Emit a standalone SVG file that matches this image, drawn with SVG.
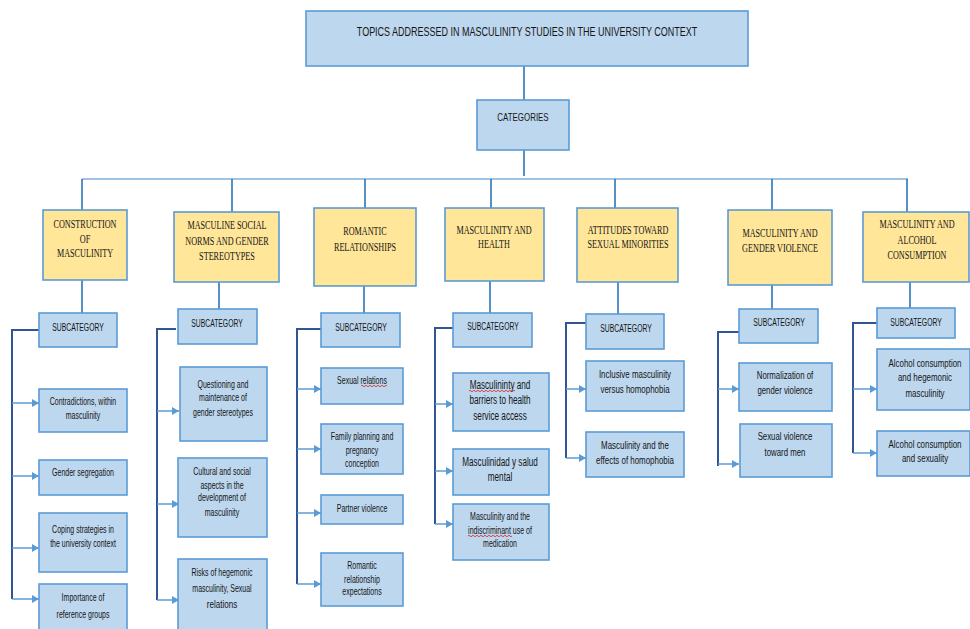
<svg xmlns="http://www.w3.org/2000/svg" width="970" height="629" viewBox="0 0 970 629">
<defs>
<marker id="ah" markerWidth="7" markerHeight="8" refX="7" refY="4" orient="auto" markerUnits="userSpaceOnUse"><path d="M0,0 L7,4 L0,8 z" fill="#5B9BD5"/></marker>
<style>
.bx{fill:#BDD7EE;stroke:#5B9BD5;stroke-width:1.6}
.cat{fill:#FFE699;stroke:#5B9BD5;stroke-width:1.6}
.t{font-family:"Liberation Sans",Arial,sans-serif;fill:#151515;text-anchor:middle}
.s{font-family:"Liberation Serif","Times New Roman",serif;fill:#151515;text-anchor:middle;font-size:11.5px}
.bus{stroke:#2E75B6;stroke-width:1.6;fill:none}
.hbus{stroke:#7FAEDC;stroke-width:1.6;fill:none}
.bk{stroke:#2F5597;stroke-width:2;fill:none}
.ar{stroke:#5B9BD5;stroke-width:1.5;fill:none;marker-end:url(#ah)}
.sq{stroke:#E02020;stroke-width:0.8;fill:none}
</style>
</defs>
<rect width="970" height="629" fill="#ffffff"/>

<g id="connectors">
<path class="bus" d="M524,66 V100 M524,150 V176"/>
<path class="hbus" d="M82,179 H908"/>
<path class="bus" d="M82,179 V210 M232,179 V212 M365,179 V208 M491,179 V208 M615,179 V208 M772,179 V210 M907,179 V212"/>
<path class="bus" d="M82,280 V313 M219,282 V309 M364,286 V313 M490,281 V313 M618,282 V314 M772,285 V309 M910,282 V308"/>
<path class="bk" d="M39,330 H12 V599 M176,329 H157 V600 M321,329 H297 V584 M453,328 H435 V524 M586,323 H566 V458 M739,332 H718 V466 M877,323 H853 V453"/>
<path class="ar" d="M12,403 H39"/><path class="ar" d="M12,476 H39"/><path class="ar" d="M12,548 H39"/><path class="ar" d="M12,599 H39"/>
<path class="ar" d="M157,411 H179"/><path class="ar" d="M157,504 H179"/><path class="ar" d="M157,600 H179"/>
<path class="ar" d="M297,389 H321"/><path class="ar" d="M297,449 H321"/><path class="ar" d="M297,513 H321"/><path class="ar" d="M297,584 H321"/>
<path class="ar" d="M435,404 H453"/><path class="ar" d="M435,471 H453"/><path class="ar" d="M435,524 H453"/>
<path class="ar" d="M566,389 H586"/><path class="ar" d="M566,458 H586"/>
<path class="ar" d="M718,389 H739"/><path class="ar" d="M718,464 H739"/>
<path class="ar" d="M853,389 H877"/><path class="ar" d="M853,453 H877"/>
</g>

<g id="title"><rect class="bx" x="306" y="11" width="442" height="55"/>
<text class="t" font-size="12.5" transform="translate(527,0) scale(0.72,1)"><tspan x="0" y="36">TOPICS ADDRESSED IN MASCULINITY STUDIES IN THE UNIVERSITY CONTEXT</tspan></text></g>

<g id="categories"><rect class="bx" x="477" y="100" width="92" height="50"/>
<text class="t" font-size="11" transform="translate(523,0) scale(0.72,1)"><tspan x="0" y="121">CATEGORIES</tspan></text></g>

<g id="cat1"><rect class="cat" x="43" y="210" width="84" height="70"/>
<text class="s" transform="translate(85,0) scale(0.71,1)"><tspan x="0" y="228">CONSTRUCTION</tspan><tspan x="0" y="243">OF</tspan><tspan x="0" y="257">MASCULINITY</tspan></text></g>
<g id="cat2"><rect class="cat" x="174" y="212" width="105" height="70"/>
<text class="s" transform="translate(227,0) scale(0.71,1)"><tspan x="0" y="229">MASCULINE SOCIAL</tspan><tspan x="0" y="245">NORMS AND GENDER</tspan><tspan x="0" y="260">STEREOTYPES</tspan></text></g>
<g id="cat3"><rect class="cat" x="314" y="208" width="102" height="78"/>
<text class="s" transform="translate(365,0) scale(0.71,1)"><tspan x="0" y="235">ROMANTIC</tspan><tspan x="0" y="251">RELATIONSHIPS</tspan></text></g>
<g id="cat4"><rect class="cat" x="445" y="208" width="99" height="73"/>
<text class="s" transform="translate(494,0) scale(0.71,1)"><tspan x="0" y="234">MASCULINITY AND</tspan><tspan x="0" y="248">HEALTH</tspan></text></g>
<g id="cat5"><rect class="cat" x="577" y="208" width="101" height="74"/>
<text class="s" transform="translate(628,0) scale(0.71,1)"><tspan x="0" y="234">ATTITUDES TOWARD</tspan><tspan x="0" y="248">SEXUAL MINORITIES</tspan></text></g>
<g id="cat6"><rect class="cat" x="728" y="210" width="104" height="75"/>
<text class="s" transform="translate(780,0) scale(0.71,1)"><tspan x="0" y="237">MASCULINITY AND</tspan><tspan x="0" y="252">GENDER VIOLENCE</tspan></text></g>
<g id="cat7"><rect class="cat" x="863" y="212" width="106" height="70"/>
<text class="s" transform="translate(917,0) scale(0.71,1)"><tspan x="0" y="228">MASCULINITY AND</tspan><tspan x="0" y="244">ALCOHOL</tspan><tspan x="0" y="259">CONSUMPTION</tspan></text></g>

<g id="sub1"><rect class="bx" x="39" y="313" width="78" height="34"/><text class="t" font-size="10" transform="translate(78,0) scale(0.68,1)"><tspan x="0" y="331">SUBCATEGORY</tspan></text></g>
<g id="sub2"><rect class="bx" x="178" y="309" width="79" height="35"/><text class="t" font-size="10" transform="translate(217,0) scale(0.68,1)"><tspan x="0" y="327">SUBCATEGORY</tspan></text></g>
<g id="sub3"><rect class="bx" x="321" y="313" width="79" height="34"/><text class="t" font-size="10" transform="translate(361,0) scale(0.68,1)"><tspan x="0" y="331">SUBCATEGORY</tspan></text></g>
<g id="sub4"><rect class="bx" x="453" y="313" width="79" height="34"/><text class="t" font-size="10" transform="translate(493,0) scale(0.68,1)"><tspan x="0" y="330">SUBCATEGORY</tspan></text></g>
<g id="sub5"><rect class="bx" x="586" y="314" width="78" height="35"/><text class="t" font-size="10" transform="translate(626,0) scale(0.68,1)"><tspan x="0" y="332">SUBCATEGORY</tspan></text></g>
<g id="sub6"><rect class="bx" x="739" y="309" width="79" height="34"/><text class="t" font-size="10" transform="translate(779,0) scale(0.68,1)"><tspan x="0" y="326">SUBCATEGORY</tspan></text></g>
<g id="sub7"><rect class="bx" x="877" y="308" width="78" height="30"/><text class="t" font-size="10" transform="translate(916,0) scale(0.68,1)"><tspan x="0" y="326">SUBCATEGORY</tspan></text></g>

<g id="l1a"><rect class="bx" x="39" y="389" width="88" height="43"/><text class="t" font-size="10" transform="translate(83,0) scale(0.7,1)"><tspan x="0" y="405">Contradictions, within</tspan><tspan x="0" y="419">masculinity</tspan></text></g>
<g id="l1b"><rect class="bx" x="39" y="460" width="88" height="35"/><text class="t" font-size="10" transform="translate(83,0) scale(0.7,1)"><tspan x="0" y="476">Gender segregation</tspan></text></g>
<g id="l1c"><rect class="bx" x="39" y="513" width="88" height="59"/><text class="t" font-size="10" transform="translate(83,0) scale(0.7,1)"><tspan x="0" y="533">Coping strategies in</tspan><tspan x="0" y="547">the university context</tspan></text></g>
<g id="l1d"><rect class="bx" x="39" y="584" width="88" height="56"/><text class="t" font-size="10" transform="translate(83,0) scale(0.7,1)"><tspan x="0" y="601">Importance of</tspan><tspan x="0" y="618">reference groups</tspan></text></g>

<g id="l2a"><rect class="bx" x="180" y="367" width="87" height="74"/><text class="t" font-size="10" transform="translate(223,0) scale(0.7,1)"><tspan x="0" y="388">Questioning and</tspan><tspan x="0" y="401">maintenance of</tspan><tspan x="0" y="416">gender stereotypes</tspan></text></g>
<g id="l2b"><rect class="bx" x="178" y="458" width="89" height="79"/><text class="t" font-size="10" transform="translate(222,0) scale(0.7,1)"><tspan x="0" y="475">Cultural and social</tspan><tspan x="0" y="489">aspects in the</tspan><tspan x="0" y="501">development of</tspan><tspan x="0" y="516">masculinity</tspan></text></g>
<g id="l2c"><rect class="bx" x="178" y="559" width="89" height="81"/><text class="t" font-size="10" transform="translate(222,0) scale(0.7,1)"><tspan x="0" y="576">Risks of hegemonic</tspan><tspan x="0" y="592">masculinity, Sexual</tspan><tspan x="0" y="608" font-size="11.5">relations</tspan></text></g>

<g id="l3a"><rect class="bx" x="321" y="368" width="82" height="36"/><text class="t" font-size="10" transform="translate(362,0) scale(0.7,1)"><tspan x="0" y="384">Sexual relations</tspan></text><path class="sq" d="M361,386 q1,-1.5 2,0 t2,0 t2,0 t2,0 t2,0 t2,0 t2,0 t2,0 t2,0 t2,0 t2,0 t2,0 t2,0"/></g>
<g id="l3b"><rect class="bx" x="321" y="424" width="82" height="50"/><text class="t" font-size="10" transform="translate(362,0) scale(0.7,1)"><tspan x="0" y="440">Family planning and</tspan><tspan x="0" y="454">pregnancy</tspan><tspan x="0" y="467">conception</tspan></text></g>
<g id="l3c"><rect class="bx" x="321" y="495" width="82" height="29"/><text class="t" font-size="10" transform="translate(362,0) scale(0.7,1)"><tspan x="0" y="512">Partner violence</tspan></text></g>
<g id="l3d"><rect class="bx" x="321" y="553" width="82" height="53"/><text class="t" font-size="10" transform="translate(362,0) scale(0.7,1)"><tspan x="0" y="569">Romantic</tspan><tspan x="0" y="583">relationship</tspan><tspan x="0" y="595">expectations</tspan></text></g>

<g id="l4a"><rect class="bx" x="453" y="373" width="96" height="58"/><text class="t" font-size="12" transform="translate(500,0) scale(0.68,1)"><tspan x="0" y="389">Masculininty and</tspan><tspan x="0" y="404">barriers to health</tspan><tspan x="0" y="420">service access</tspan></text><path class="sq" d="M469,391 q1,-1.5 2,0 t2,0 t2,0 t2,0 t2,0 t2,0 t2,0 t2,0 t2,0 t2,0 t2,0 t2,0 t2,0 t2,0 t2,0 t2,0 t2,0 t2,0 t2,0 t2,0 t2,0 t2,0 t2,0"/></g>
<g id="l4b"><rect class="bx" x="453" y="449" width="96" height="46"/><text class="t" font-size="12" transform="translate(500,0) scale(0.68,1)"><tspan x="0" y="466">Masculinidad y salud</tspan><tspan x="0" y="481">mental</tspan></text></g>
<g id="l4c"><rect class="bx" x="453" y="504" width="96" height="56"/><text class="t" font-size="10" transform="translate(500,0) scale(0.7,1)"><tspan x="0" y="520">Masculinity and the</tspan><tspan x="0" y="534">indiscriminant use of</tspan><tspan x="0" y="547">medication</tspan></text><path class="sq" d="M468,536 q1,-1.5 2,0 t2,0 t2,0 t2,0 t2,0 t2,0 t2,0 t2,0 t2,0 t2,0 t2,0 t2,0 t2,0 t2,0 t2,0 t2,0 t2,0 t2,0 t2,0 t2,0 t2,0 t2,0"/></g>

<g id="l5a"><rect class="bx" x="586" y="361" width="98" height="50"/><text class="t" font-size="11.5" transform="translate(635,0) scale(0.69,1)"><tspan x="0" y="378">Inclusive masculinity</tspan><tspan x="0" y="393">versus homophobia</tspan></text></g>
<g id="l5b"><rect class="bx" x="586" y="432" width="98" height="45"/><text class="t" font-size="11.5" transform="translate(635,0) scale(0.69,1)"><tspan x="0" y="449">Masculinity and the</tspan><tspan x="0" y="464">effects of homophobia</tspan></text></g>

<g id="l6a"><rect class="bx" x="739" y="363" width="93" height="48"/><text class="t" font-size="11.5" transform="translate(785,0) scale(0.68,1)"><tspan x="0" y="379">Normalization of</tspan><tspan x="0" y="394">gender violence</tspan></text></g>
<g id="l6b"><rect class="bx" x="740" y="424" width="92" height="53"/><text class="t" font-size="11.5" transform="translate(785,0) scale(0.68,1)"><tspan x="0" y="440">Sexual violence</tspan><tspan x="0" y="456">toward men</tspan></text></g>

<g id="l7a"><rect class="bx" x="877" y="349" width="93" height="61"/><text class="t" font-size="11" transform="translate(925,0) scale(0.72,1)"><tspan x="0" y="367">Alcohol consumption</tspan><tspan x="0" y="381">and hegemonic</tspan><tspan x="0" y="397">masculinity</tspan></text></g>
<g id="l7b"><rect class="bx" x="877" y="431" width="93" height="45"/><text class="t" font-size="11" transform="translate(925,0) scale(0.72,1)"><tspan x="0" y="448">Alcohol consumption</tspan><tspan x="0" y="462">and sexuality</tspan></text></g>
</svg>
